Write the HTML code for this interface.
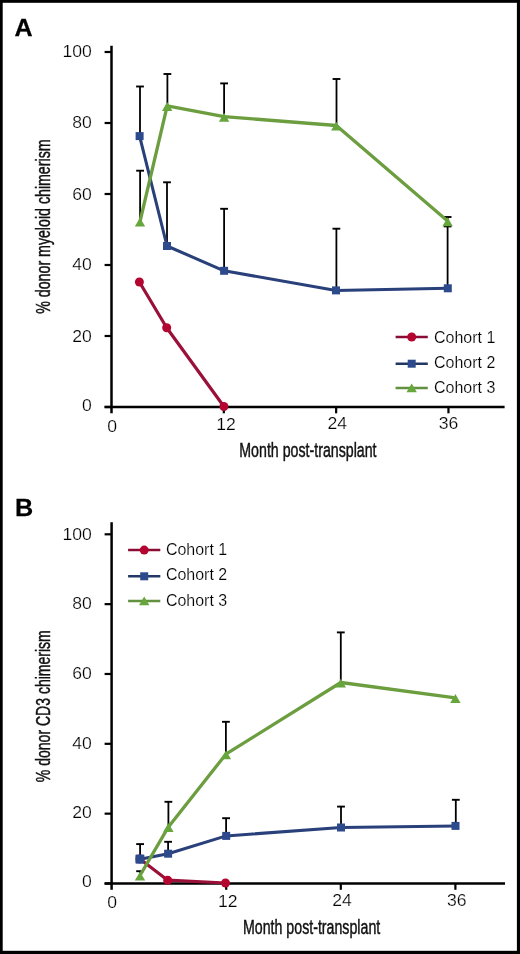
<!DOCTYPE html><html><head><meta charset="utf-8"><style>html,body{margin:0;padding:0;background:#fff;}svg{display:block;will-change:transform;}text{font-family:"Liberation Sans",sans-serif;}</style></head><body>
<svg width="520" height="954" viewBox="0 0 520 954">
<rect x="0" y="0" width="520" height="954" fill="#fff"/>
<rect x="0" y="0" width="2.7" height="954" fill="#000"/>
<rect x="0" y="0" width="520" height="2.8" fill="#000"/>
<rect x="516.9" y="0" width="3.1" height="954" fill="#000"/>
<rect x="0" y="950.8" width="520" height="3.2" fill="#000"/>
<text transform="translate(14.6,35.9) scale(1.045,1.01)" font-size="24" font-weight="bold" fill="#000" stroke="#000" stroke-width="0.25">A</text>
<text transform="translate(15.1,516.2) scale(1.05,1.01)" font-size="24" font-weight="bold" fill="#000" stroke="#000" stroke-width="0.25">B</text>
<line x1="111.5" y1="45.8" x2="111.5" y2="413.3" stroke="#000" stroke-width="2.5"/>
<line x1="104.6" y1="407.0" x2="504.6" y2="407.0" stroke="#000" stroke-width="2.6"/>
<line x1="104.6" y1="407.00" x2="111.5" y2="407.00" stroke="#000" stroke-width="2.2"/>
<line x1="104.6" y1="336.00" x2="111.5" y2="336.00" stroke="#000" stroke-width="2.2"/>
<line x1="104.6" y1="265.00" x2="111.5" y2="265.00" stroke="#000" stroke-width="2.2"/>
<line x1="104.6" y1="194.00" x2="111.5" y2="194.00" stroke="#000" stroke-width="2.2"/>
<line x1="104.6" y1="123.00" x2="111.5" y2="123.00" stroke="#000" stroke-width="2.2"/>
<line x1="104.6" y1="52.00" x2="111.5" y2="52.00" stroke="#000" stroke-width="2.2"/>
<line x1="223.82" y1="407.0" x2="223.82" y2="413.3" stroke="#000" stroke-width="2.2"/>
<line x1="336.14" y1="407.0" x2="336.14" y2="413.3" stroke="#000" stroke-width="2.2"/>
<line x1="448.46" y1="407.0" x2="448.46" y2="413.3" stroke="#000" stroke-width="2.2"/>
<text transform="translate(91.80,410.80) scale(1.1,1)" text-anchor="end" font-size="16" fill="#000" stroke="#fff" stroke-width="0.22">0</text>
<text transform="translate(91.80,341.50) scale(1.1,1)" text-anchor="end" font-size="16" fill="#000" stroke="#fff" stroke-width="0.22">20</text>
<text transform="translate(91.80,269.50) scale(1.1,1)" text-anchor="end" font-size="16" fill="#000" stroke="#fff" stroke-width="0.22">40</text>
<text transform="translate(91.80,199.80) scale(1.1,1)" text-anchor="end" font-size="16" fill="#000" stroke="#fff" stroke-width="0.22">60</text>
<text transform="translate(91.80,127.80) scale(1.1,1)" text-anchor="end" font-size="16" fill="#000" stroke="#fff" stroke-width="0.22">80</text>
<text transform="translate(91.80,57.00) scale(1.1,1)" text-anchor="end" font-size="16" fill="#000" stroke="#fff" stroke-width="0.22">100</text>
<text transform="translate(112.10,432.20) scale(1.1,1)" text-anchor="middle" font-size="16" fill="#000" stroke="#fff" stroke-width="0.22">0</text>
<text transform="translate(226.00,430.40) scale(1.1,1)" text-anchor="middle" font-size="16" fill="#000" stroke="#fff" stroke-width="0.22">12</text>
<text transform="translate(337.30,429.00) scale(1.1,1)" text-anchor="middle" font-size="16" fill="#000" stroke="#fff" stroke-width="0.22">24</text>
<text transform="translate(448.50,429.00) scale(1.1,1)" text-anchor="middle" font-size="16" fill="#000" stroke="#fff" stroke-width="0.22">36</text>
<text transform="translate(307.90,456.90) scale(0.724,1)" text-anchor="middle" font-size="19.6" fill="#111" stroke="#111" stroke-width="0.45">Month post-transplant</text>
<text transform="translate(50.00,226.60) rotate(-90) scale(0.724,1)" text-anchor="middle" font-size="19.6" fill="#111" stroke="#111" stroke-width="0.45">% donor myeloid chimerism</text>
<line x1="140.00" y1="86.50" x2="140.00" y2="136.00" stroke="#000" stroke-width="1.8"/>
<line x1="136.10" y1="86.50" x2="143.90" y2="86.50" stroke="#000" stroke-width="1.9"/>
<line x1="140.10" y1="170.70" x2="140.10" y2="222.00" stroke="#000" stroke-width="1.8"/>
<line x1="136.20" y1="170.70" x2="144.00" y2="170.70" stroke="#000" stroke-width="1.9"/>
<line x1="167.40" y1="74.00" x2="167.40" y2="106.50" stroke="#000" stroke-width="1.8"/>
<line x1="163.50" y1="74.00" x2="171.30" y2="74.00" stroke="#000" stroke-width="1.9"/>
<line x1="167.00" y1="182.30" x2="167.00" y2="246.00" stroke="#000" stroke-width="1.8"/>
<line x1="163.10" y1="182.30" x2="170.90" y2="182.30" stroke="#000" stroke-width="1.9"/>
<line x1="224.10" y1="83.40" x2="224.10" y2="117.40" stroke="#000" stroke-width="1.8"/>
<line x1="220.20" y1="83.40" x2="228.00" y2="83.40" stroke="#000" stroke-width="1.9"/>
<line x1="224.10" y1="208.80" x2="224.10" y2="270.80" stroke="#000" stroke-width="1.8"/>
<line x1="220.20" y1="208.80" x2="228.00" y2="208.80" stroke="#000" stroke-width="1.9"/>
<line x1="336.50" y1="79.00" x2="336.50" y2="126.30" stroke="#000" stroke-width="1.8"/>
<line x1="332.60" y1="79.00" x2="340.40" y2="79.00" stroke="#000" stroke-width="1.9"/>
<line x1="336.40" y1="228.70" x2="336.40" y2="290.40" stroke="#000" stroke-width="1.8"/>
<line x1="332.50" y1="228.70" x2="340.30" y2="228.70" stroke="#000" stroke-width="1.9"/>
<line x1="447.60" y1="217.00" x2="447.60" y2="221.90" stroke="#000" stroke-width="1.8"/>
<line x1="443.70" y1="217.00" x2="451.50" y2="217.00" stroke="#000" stroke-width="1.9"/>
<line x1="447.60" y1="226.40" x2="447.60" y2="288.30" stroke="#000" stroke-width="1.8"/>
<line x1="443.70" y1="226.40" x2="451.50" y2="226.40" stroke="#000" stroke-width="1.9"/>
<polyline points="139.40,282.00 166.70,327.70 223.90,406.50" fill="none" stroke="#9a1038" stroke-width="3.2" stroke-linejoin="round" stroke-linecap="butt"/>
<polyline points="139.60,136.10 167.00,246.00 224.10,270.80 336.00,290.40 447.80,288.30" fill="none" stroke="#29407a" stroke-width="3.05" stroke-linejoin="round" stroke-linecap="butt"/>
<polyline points="140.00,221.50 167.20,105.80 224.10,116.60 336.30,125.50 447.60,221.10" fill="none" stroke="#6c9e40" stroke-width="3.3" stroke-linejoin="round" stroke-linecap="butt"/>
<circle cx="139.40" cy="282.00" r="4.5" fill="#b3052f"/>
<circle cx="166.70" cy="327.70" r="4.5" fill="#b3052f"/>
<circle cx="223.90" cy="406.50" r="4.5" fill="#b3052f"/>
<rect x="135.60" y="132.10" width="8" height="8" fill="#2d4b8c"/>
<rect x="163.00" y="242.00" width="8" height="8" fill="#2d4b8c"/>
<rect x="220.10" y="266.80" width="8" height="8" fill="#2d4b8c"/>
<rect x="332.00" y="286.40" width="8" height="8" fill="#2d4b8c"/>
<rect x="443.80" y="284.30" width="8" height="8" fill="#2d4b8c"/>
<polygon points="140.00,217.70 134.80,226.60 145.20,226.60" fill="#66a63c"/>
<polygon points="167.20,102.00 162.00,110.90 172.40,110.90" fill="#66a63c"/>
<polygon points="224.10,112.80 218.90,121.70 229.30,121.70" fill="#66a63c"/>
<polygon points="336.30,121.70 331.10,130.60 341.50,130.60" fill="#66a63c"/>
<polygon points="447.60,217.30 442.40,226.20 452.80,226.20" fill="#66a63c"/>
<line x1="395.60" y1="337.00" x2="427.80" y2="337.00" stroke="#8a0d35" stroke-width="2.5"/>
<circle cx="411.70" cy="337.00" r="4.5" fill="#b3052f"/>
<text transform="translate(434.00,342.50) scale(1.025,1)" font-size="15.6" fill="#000" stroke="#fff" stroke-width="0.18">Cohort 1</text>
<line x1="395.60" y1="363.70" x2="427.80" y2="363.70" stroke="#223764" stroke-width="2.5"/>
<rect x="407.70" y="359.70" width="8" height="8" fill="#2d4b8c"/>
<text transform="translate(434.00,367.80) scale(1.025,1)" font-size="15.6" fill="#000" stroke="#fff" stroke-width="0.18">Cohort 2</text>
<line x1="395.60" y1="388.00" x2="427.80" y2="388.00" stroke="#62913f" stroke-width="2.5"/>
<polygon points="411.70,383.40 406.50,392.30 416.90,392.30" fill="#66a63c"/>
<text transform="translate(434.00,393.10) scale(1.025,1)" font-size="15.6" fill="#000" stroke="#fff" stroke-width="0.18">Cohort 3</text>
<line x1="111.6" y1="522.2" x2="111.6" y2="889.8" stroke="#000" stroke-width="2.5"/>
<line x1="104.6" y1="883.5" x2="505.0" y2="883.5" stroke="#000" stroke-width="2.6"/>
<line x1="104.6" y1="883.50" x2="111.6" y2="883.50" stroke="#000" stroke-width="2.2"/>
<line x1="104.6" y1="813.66" x2="111.6" y2="813.66" stroke="#000" stroke-width="2.2"/>
<line x1="104.6" y1="743.82" x2="111.6" y2="743.82" stroke="#000" stroke-width="2.2"/>
<line x1="104.6" y1="673.98" x2="111.6" y2="673.98" stroke="#000" stroke-width="2.2"/>
<line x1="104.6" y1="604.14" x2="111.6" y2="604.14" stroke="#000" stroke-width="2.2"/>
<line x1="104.6" y1="534.30" x2="111.6" y2="534.30" stroke="#000" stroke-width="2.2"/>
<line x1="226.20" y1="883.5" x2="226.20" y2="889.8" stroke="#000" stroke-width="2.2"/>
<line x1="340.80" y1="883.5" x2="340.80" y2="889.8" stroke="#000" stroke-width="2.2"/>
<line x1="455.40" y1="883.5" x2="455.40" y2="889.8" stroke="#000" stroke-width="2.2"/>
<text transform="translate(91.80,887.40) scale(1.1,1)" text-anchor="end" font-size="16" fill="#000" stroke="#fff" stroke-width="0.22">0</text>
<text transform="translate(91.80,817.96) scale(1.1,1)" text-anchor="end" font-size="16" fill="#000" stroke="#fff" stroke-width="0.22">20</text>
<text transform="translate(91.80,748.92) scale(1.1,1)" text-anchor="end" font-size="16" fill="#000" stroke="#fff" stroke-width="0.22">40</text>
<text transform="translate(91.80,679.08) scale(1.1,1)" text-anchor="end" font-size="16" fill="#000" stroke="#fff" stroke-width="0.22">60</text>
<text transform="translate(91.80,609.44) scale(1.1,1)" text-anchor="end" font-size="16" fill="#000" stroke="#fff" stroke-width="0.22">80</text>
<text transform="translate(91.80,539.60) scale(1.1,1)" text-anchor="end" font-size="16" fill="#000" stroke="#fff" stroke-width="0.22">100</text>
<text transform="translate(112.20,907.50) scale(1.1,1)" text-anchor="middle" font-size="16" fill="#000" stroke="#fff" stroke-width="0.22">0</text>
<text transform="translate(227.70,906.70) scale(1.1,1)" text-anchor="middle" font-size="16" fill="#000" stroke="#fff" stroke-width="0.22">12</text>
<text transform="translate(342.00,905.90) scale(1.1,1)" text-anchor="middle" font-size="16" fill="#000" stroke="#fff" stroke-width="0.22">24</text>
<text transform="translate(456.70,905.50) scale(1.1,1)" text-anchor="middle" font-size="16" fill="#000" stroke="#fff" stroke-width="0.22">36</text>
<text transform="translate(311.60,933.70) scale(0.724,1)" text-anchor="middle" font-size="19.6" fill="#111" stroke="#111" stroke-width="0.45">Month post-transplant</text>
<text transform="translate(49.90,706.20) rotate(-90) scale(0.716,1)" text-anchor="middle" font-size="19.6" fill="#111" stroke="#111" stroke-width="0.45">% donor CD3 chimerism</text>
<line x1="140.10" y1="844.10" x2="140.10" y2="859.00" stroke="#000" stroke-width="1.8"/>
<line x1="136.20" y1="844.10" x2="144.00" y2="844.10" stroke="#000" stroke-width="1.9"/>
<line x1="140.10" y1="871.20" x2="140.10" y2="876.20" stroke="#000" stroke-width="1.8"/>
<line x1="136.20" y1="871.20" x2="144.00" y2="871.20" stroke="#000" stroke-width="1.9"/>
<line x1="168.40" y1="801.80" x2="168.40" y2="827.70" stroke="#000" stroke-width="1.8"/>
<line x1="164.50" y1="801.80" x2="172.30" y2="801.80" stroke="#000" stroke-width="1.9"/>
<line x1="168.10" y1="841.80" x2="168.10" y2="853.70" stroke="#000" stroke-width="1.8"/>
<line x1="164.20" y1="841.80" x2="172.00" y2="841.80" stroke="#000" stroke-width="1.9"/>
<line x1="225.90" y1="721.80" x2="225.90" y2="755.00" stroke="#000" stroke-width="1.8"/>
<line x1="222.00" y1="721.80" x2="229.80" y2="721.80" stroke="#000" stroke-width="1.9"/>
<line x1="226.10" y1="818.20" x2="226.10" y2="835.90" stroke="#000" stroke-width="1.8"/>
<line x1="222.20" y1="818.20" x2="230.00" y2="818.20" stroke="#000" stroke-width="1.9"/>
<line x1="340.80" y1="632.40" x2="340.80" y2="683.30" stroke="#000" stroke-width="1.8"/>
<line x1="336.90" y1="632.40" x2="344.70" y2="632.40" stroke="#000" stroke-width="1.9"/>
<line x1="341.00" y1="806.60" x2="341.00" y2="827.50" stroke="#000" stroke-width="1.8"/>
<line x1="337.10" y1="806.60" x2="344.90" y2="806.60" stroke="#000" stroke-width="1.9"/>
<line x1="455.80" y1="799.80" x2="455.80" y2="825.90" stroke="#000" stroke-width="1.8"/>
<line x1="451.90" y1="799.80" x2="459.70" y2="799.80" stroke="#000" stroke-width="1.9"/>
<polyline points="140.00,859.00 167.70,880.20 225.50,883.00" fill="none" stroke="#9a1038" stroke-width="3.2" stroke-linejoin="round" stroke-linecap="butt"/>
<polyline points="140.00,859.30 168.10,853.70 226.20,835.90 341.00,827.50 455.50,825.90" fill="none" stroke="#29407a" stroke-width="3.05" stroke-linejoin="round" stroke-linecap="butt"/>
<polyline points="140.00,875.50 168.40,826.90 225.90,754.20 340.80,682.50 455.40,697.80" fill="none" stroke="#6c9e40" stroke-width="3.3" stroke-linejoin="round" stroke-linecap="butt"/>
<circle cx="140.00" cy="859.00" r="4.5" fill="#b3052f"/>
<circle cx="167.70" cy="880.20" r="4.5" fill="#b3052f"/>
<circle cx="225.50" cy="883.00" r="4.5" fill="#b3052f"/>
<rect x="136.00" y="855.30" width="8" height="8" fill="#2d4b8c"/>
<rect x="164.10" y="849.70" width="8" height="8" fill="#2d4b8c"/>
<rect x="222.20" y="831.90" width="8" height="8" fill="#2d4b8c"/>
<rect x="337.00" y="823.50" width="8" height="8" fill="#2d4b8c"/>
<rect x="451.50" y="821.90" width="8" height="8" fill="#2d4b8c"/>
<rect x="135.4" y="854.6" width="9" height="9" rx="1.2" fill="#2d4b8c"/>
<polygon points="140.00,871.70 134.80,880.60 145.20,880.60" fill="#66a63c"/>
<polygon points="168.40,823.10 163.20,832.00 173.60,832.00" fill="#66a63c"/>
<polygon points="225.90,750.40 220.70,759.30 231.10,759.30" fill="#66a63c"/>
<polygon points="340.80,678.70 335.60,687.60 346.00,687.60" fill="#66a63c"/>
<polygon points="455.40,694.00 450.20,702.90 460.60,702.90" fill="#66a63c"/>
<line x1="128.10" y1="550.10" x2="160.30" y2="550.10" stroke="#8a0d35" stroke-width="2.5"/>
<circle cx="144.20" cy="550.10" r="4.5" fill="#b3052f"/>
<text transform="translate(165.90,554.60) scale(1.025,1)" font-size="15.6" fill="#000" stroke="#fff" stroke-width="0.18">Cohort 1</text>
<line x1="128.10" y1="576.30" x2="160.30" y2="576.30" stroke="#223764" stroke-width="2.5"/>
<rect x="140.20" y="572.30" width="8" height="8" fill="#2d4b8c"/>
<text transform="translate(165.90,580.20) scale(1.025,1)" font-size="15.6" fill="#000" stroke="#fff" stroke-width="0.18">Cohort 2</text>
<line x1="128.10" y1="601.00" x2="160.30" y2="601.00" stroke="#62913f" stroke-width="2.5"/>
<polygon points="144.20,596.40 139.00,605.30 149.40,605.30" fill="#66a63c"/>
<text transform="translate(165.90,605.60) scale(1.025,1)" font-size="15.6" fill="#000" stroke="#fff" stroke-width="0.18">Cohort 3</text>
</svg></body></html>
